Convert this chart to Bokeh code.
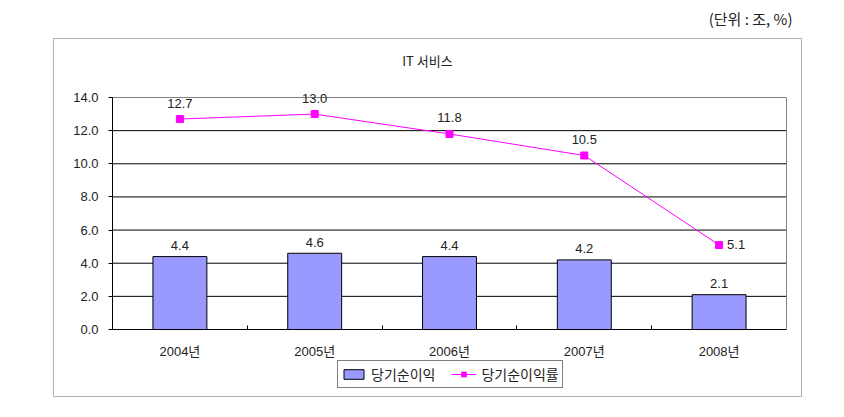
from bokeh.plotting import figure
from bokeh.core.properties import value
from bokeh.models import (ColumnDataSource, FixedTicker, LabelSet, Label,
                          BoxAnnotation, Legend, LegendItem, Range1d)
from bokeh.embed import file_html
from bokeh.resources import INLINE

# ---- data ----
years = ["2004년", "2005년", "2006년", "2007년", "2008년"]
net_income = [4.4, 4.6, 4.4, 4.2, 2.1]
net_margin = [12.7, 13.0, 11.8, 10.5, 5.1]
y_ticks = [0, 2, 4, 6, 8, 10, 12, 14]
title_text = "IT 서비스"
unit_text = "(단위 : 조, %)"
bar_name = "당기순이익"
line_name = "당기순이익률"

# ---- layout (pixels on the canvas) ----
W, H = 836, 409
PL, PR, PT, PB = 112, 786, 97, 329      # plot area edges
N = len(years)
Y_MAX = y_ticks[-1]
UX = (PR - PL) / N                        # px per category
UY = (PB - PT) / Y_MAX                    # px per y unit

FONT_AX = "Liberation Sans, Noto Sans CJK KR"
FONT_NUM = "Liberation Sans"
FONT_KR = "Noto Sans CJK KR"
TXT = "#222222"


def dx(px):
    return 0.5 + (px - PL) / UX


def dy(py):
    return (PB - py) / UY


pos = list(range(1, N + 1))
src = ColumnDataSource(dict(
    x=pos,
    inc=net_income,
    mar=net_margin,
    inc_lbl=[f"{v:.1f}" for v in net_income],
    mar_lbl=[f"{v:.1f}" for v in net_margin],
    mx_off=[0] * (N - 1) + [8],
    my_off=[16] * (N - 1) + [0],
    m_align=["center"] * (N - 1) + ["left"],
))

p = figure(width=W, height=H, x_range=Range1d(dx(0), dx(W)),
           y_range=Range1d(dy(H), dy(0)), output_backend="svg",
           toolbar_location=None, min_border=0)
p.min_border_left = p.min_border_right = p.min_border_top = p.min_border_bottom = 0
p.background_fill_color = "white"
p.border_fill_color = "white"
p.outline_line_color = None
p.xgrid.visible = False
p.ygrid.visible = False

# outer box
p.add_layout(BoxAnnotation(left=dx(53), right=dx(801), top=dy(38), bottom=dy(396),
                           fill_alpha=0, line_color="black", line_width=1,
                           level="underlay"))

# grid lines (black) and gray top / right edges of plot area
grid_t = y_ticks[1:-1]
p.segment(x0=[0.5] * len(grid_t), x1=[N + 0.5] * len(grid_t), y0=grid_t, y1=grid_t,
          line_color="black", line_width=1)
p.segment(x0=[0.5, N + 0.5], y0=[Y_MAX, 0], x1=[N + 0.5, N + 0.5], y1=[Y_MAX, Y_MAX],
          line_color="#808080", line_width=1)

bars = p.vbar(x="x", top="inc", width=0.4, source=src, fill_color="#9999FF",
              line_color="black", line_width=1)
ln = p.line(x="x", y="mar", source=src, line_color="#FF00FF", line_width=1)
mk = p.scatter(x="x", y="mar", source=src, marker="square", size=7,
               fill_color="#FF00FF", line_color="#FF00FF")

# axes, placed at the plot area edges
xa = p.xaxis[0]
xa.fixed_location = 0
xa.bounds = (0.5, N + 0.5)
xa.ticker = FixedTicker(ticks=pos, minor_ticks=[i + 0.5 for i in pos[:-1]])
xa.major_label_overrides = {i: y for i, y in zip(pos, years)}
xa.major_tick_in = 0
xa.major_tick_out = 0
xa.minor_tick_in = 4
xa.minor_tick_out = 0
xa.minor_tick_line_color = "black"
xa.axis_line_color = "black"
xa.major_label_standoff = 14
xa.major_label_text_font = FONT_AX
xa.major_label_text_font_size = "13px"
xa.major_label_text_color = TXT

ya = p.yaxis[0]
ya.fixed_location = 0.5
ya.bounds = (0, Y_MAX)
ya.ticker = FixedTicker(ticks=y_ticks)
ya.major_label_overrides = {t: f"{t:.1f}" for t in y_ticks}
ya.major_tick_in = 0
ya.major_tick_out = 4
ya.minor_tick_line_color = None
ya.axis_line_color = "black"
ya.major_label_standoff = 10
ya.major_label_text_font = FONT_AX
ya.major_label_text_font_size = "13px"
ya.major_label_text_color = TXT

# data labels
p.add_layout(LabelSet(x="x", y="inc", text="inc_lbl", source=src, y_offset=11,
                      text_align="center", text_baseline="middle",
                      text_font=value(FONT_NUM), text_font_size="13px",
                      text_color=TXT))
p.add_layout(LabelSet(x="x", y="mar", text="mar_lbl", source=src,
                      x_offset="mx_off", y_offset="my_off",
                      text_align="m_align", text_baseline="middle",
                      text_font=value(FONT_NUM), text_font_size="13px",
                      text_color=TXT))

# title and unit
p.add_layout(Label(x=dx(427), y=dy(60), text=title_text, text_align="center",
                   text_baseline="middle", text_font=FONT_KR,
                   text_font_size="13px", text_color=TXT))
p.add_layout(Label(x=dx(792), y=dy(18), text=unit_text, text_align="right",
                   text_baseline="middle", text_font=FONT_KR,
                   text_font_size="15px", text_color=TXT))

legend = Legend(items=[LegendItem(label=bar_name, renderers=[bars]),
                       LegendItem(label=line_name, renderers=[ln, mk])],
                orientation="horizontal", location=(337, H - 388),
                margin=0, padding=3, spacing=16, glyph_width=25, glyph_height=12,
                label_standoff=5, label_height=14,
                label_text_font=FONT_KR, label_text_font_size="14px",
                label_text_color=TXT, border_line_color="black",
                border_line_width=1, background_fill_color="white",
                background_fill_alpha=1)
p.add_layout(legend, "center")

open("out.html", "w").write(file_html(p, INLINE))
